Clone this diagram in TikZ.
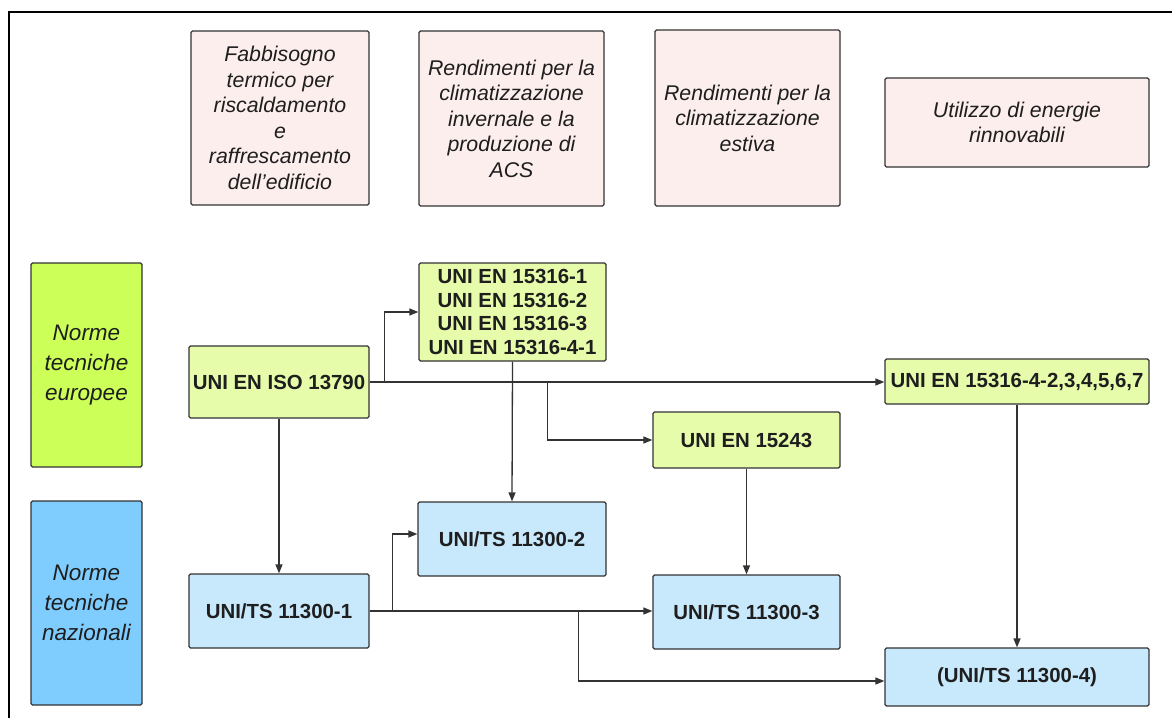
\documentclass[tikz,border=0pt]{standalone}
\usepackage{fontspec}
\setmainfont{Liberation Sans}
\usetikzlibrary{arrows.meta,calc}
\definecolor{pinkfill}{HTML}{FDEEEE}
\definecolor{eugreen}{HTML}{CCFF57}
\definecolor{lightgreen}{HTML}{E6FCAB}
\definecolor{itblue}{HTML}{7FCCFF}
\definecolor{lightblue}{HTML}{C8E8FB}
\definecolor{edge}{HTML}{333333}
\definecolor{txt}{HTML}{1E1E1E}
\tikzset{
  box/.style={draw=edge, line width=1.3pt, rounded corners=1.5pt, align=center, text=txt, inner sep=2pt},
  headbox/.style={box, fill=pinkfill, font=\fontsize{21.3}{25.5}\selectfont\itshape},
  sidebox/.style={box, minimum width=111, minimum height=204, font=\fontsize{22.5}{30}\selectfont\itshape},
  codebox/.style={box, font=\fontsize{20.4}{23.5}\selectfont\bfseries},
  gbox/.style={codebox, fill=lightgreen},
  bbox/.style={codebox, fill=lightblue},
  arr/.style={draw=edge, line width=1.3pt, -{Triangle[length=9pt,width=7pt]}},
  ln/.style={draw=edge, line width=1.3pt}
}
\begin{document}
\begin{tikzpicture}[x=1pt,y=-1pt]
\useasboundingbox (0,0) rectangle (1172,718);
\fill[white] (0,0) rectangle (1172,718);
\draw[line width=2pt, black] (9,718) -- (9,12) -- (1172,12);

% header boxes
\node[headbox, minimum width=178, minimum height=174] (p1) at (280,118)
  {Fabbisogno\\termico per\\riscaldamento\\e\\raffrescamento\\dell’edificio};
\node[headbox, minimum width=185, minimum height=175] (p2) at (511.5,118.5)
  {Rendimenti per la\\climatizzazione\\invernale e la\\produzione di\\ACS};
\node[headbox, minimum width=185, minimum height=176] (p3) at (747.5,118)
  {Rendimenti per la\\climatizzazione\\estiva};
\node[headbox, minimum width=264, minimum height=89] (p4) at (1017,122.5)
  {Utilizzo di energie\\rinnovabili};

% side boxes
\node[sidebox, fill=eugreen] (eu) at (86.5,365) {Norme\\tecniche\\europee};
\node[sidebox, fill=itblue] (it) at (86.5,603) {Norme\\tecniche\\nazionali};

% green boxes
\node[gbox, minimum width=180, minimum height=72] (g1) at (279,382) {UNI EN ISO 13790};
\node[gbox, minimum width=187, minimum height=98] (g2) at (512.5,312)
  {UNI EN 15316-1\\UNI EN 15316-2\\UNI EN 15316-3\\UNI EN 15316-4-1};
\node[gbox, minimum width=187, minimum height=56] (g3) at (746.5,440) {UNI EN 15243};
\node[gbox, minimum width=264, minimum height=45] (g4) at (1017,381.5) {UNI EN 15316-4-2,3,4,5,6,7};

% blue boxes
\node[bbox, minimum width=180, minimum height=74] (b1) at (279,611) {UNI/TS 11300-1};
\node[bbox, minimum width=188, minimum height=74] (b2) at (512,539) {UNI/TS 11300-2};
\node[bbox, minimum width=187, minimum height=74] (b3) at (746.5,612) {UNI/TS 11300-3};
\node[bbox, minimum width=264, minimum height=58] (b4) at (1017,677) {(UNI/TS 11300-4)};

% connectors
\draw[arr] (g1.east) -- (g1.east -| g4.west);
\coordinate (j1) at ($(g1.east)+(15,0)$);
\coordinate (j2) at ($(g1.east)+(178,0)$);
\draw[arr] (j1) |- (g2.west);
\draw[arr] (j2) |- (g3.west);
\draw[arr] (g1.south) -- (b1.north);
\draw[arr] (g2.south) -- (b2.north);
\draw[arr] (g3.south) -- (b3.north);
\draw[arr] (g4.south) -- (b4.north);

\draw[arr] (b1.east) -- (b1.east -| b3.west);
\coordinate (j3) at ($(b1.east)+(23,0)$);
\coordinate (j4) at ($(b1.east)+(209,0)$);
\draw[arr] (j3) |- ($(b2.west)+(0,-5)$);
\draw[arr] (j4) |- ($(b4.west)+(0,4)$);
\end{tikzpicture}
\end{document}
